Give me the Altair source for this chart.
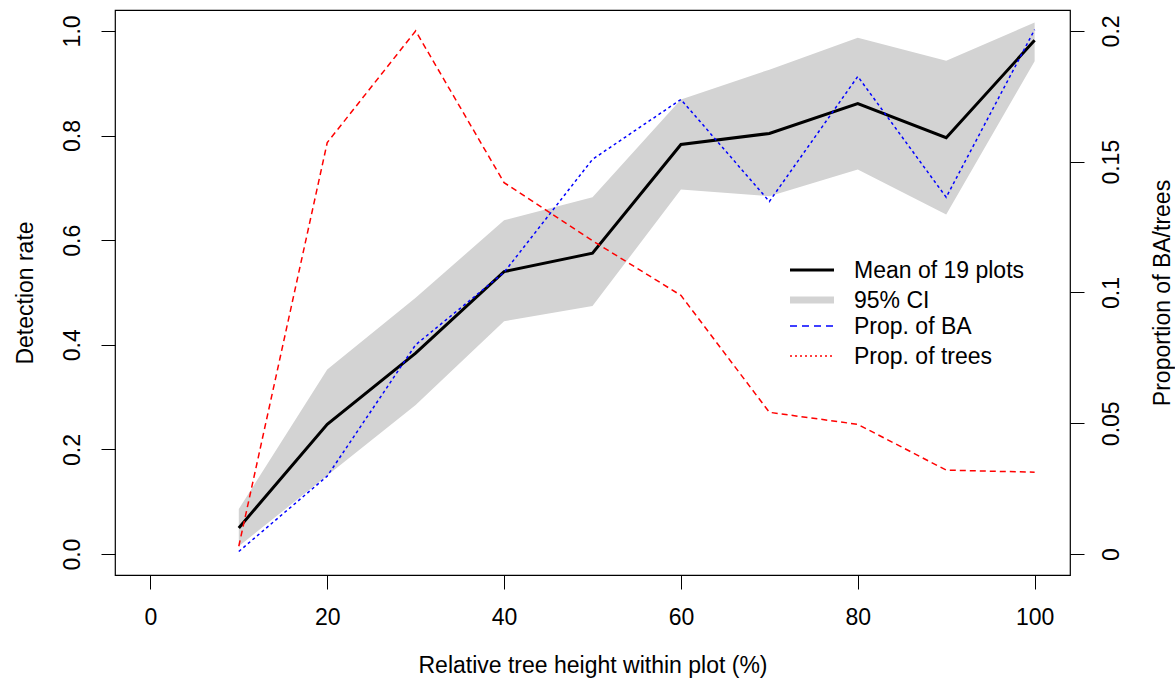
import altair as alt
import pandas as pd

# ---- data ----
height_pct = [10, 20, 30, 40, 50, 60, 70, 80, 90, 100]
mean_rate = [0.050, 0.248, 0.384, 0.540, 0.575, 0.783, 0.804, 0.861, 0.796, 0.982]
ci_upper = [0.086, 0.353, 0.490, 0.638, 0.682, 0.869, 0.926, 0.987, 0.943, 1.016]
ci_lower = [0.015, 0.150, 0.285, 0.445, 0.474, 0.697, 0.684, 0.735, 0.649, 0.942]
prop_ba = [0.001, 0.0298, 0.080, 0.1077, 0.1509, 0.1738, 0.1348, 0.1826, 0.1364, 0.2005]
prop_trees = [0.003, 0.1573, 0.200, 0.142, 0.1198, 0.0989, 0.0542, 0.0496, 0.0321, 0.0313]

x_ticks = [0, 20, 40, 60, 80, 100]
left_ticks = [0.0, 0.2, 0.4, 0.6, 0.8, 1.0]
right_ticks = [0, 0.05, 0.1, 0.15, 0.2]
legend_labels = ["Mean of 19 plots", "95% CI", "Prop. of BA", "Prop. of trees"]

df = pd.DataFrame({
    "h": height_pct, "mean": mean_rate, "lo": ci_lower, "hi": ci_upper,
    "ba": prop_ba, "trees": prop_trees,
})

FONT = "Liberation Sans"
FS = 23
W, H = 955, 565

xscale = alt.Scale(domain=[-4, 104], nice=False, zero=False)
yleft = alt.Scale(domain=[-0.04, 1.04], nice=False, zero=False)
yright = alt.Scale(domain=[-0.008, 0.208], nice=False, zero=False)

xaxis = alt.Axis(values=x_ticks, title="Relative tree height within plot (%)",
                 domain=False, grid=False, tickSize=14, labelPadding=17,
                 labelFontSize=FS, titleFontSize=FS, titleFontWeight="normal",
                 titleX=W / 2, titleY=90, titleBaseline="middle", titleAlign="center",
                 labelFont=FONT, titleFont=FONT, tickColor="black", labelColor="black",
                 titleColor="black")

left_axis = alt.Axis(values=left_ticks, format=".1f", title="Detection rate",
                     domain=False, grid=False, tickSize=14, labelPadding=17,
                     labelAngle=270, labelAlign="center", labelBaseline="bottom",
                     labelFontSize=FS, titleFontSize=FS, titleFontWeight="normal",
                     titleAngle=270, titleX=-90, titleY=H / 2, titleBaseline="middle",
                     titleAlign="center", labelFont=FONT, titleFont=FONT,
                     tickColor="black", labelColor="black", titleColor="black")

right_axis = alt.Axis(values=right_ticks, format="~g", title="Proportion of BA/trees",
                      orient="right", domain=False, grid=False, tickSize=14, labelPadding=16,
                      labelAngle=270, labelAlign="center", labelBaseline="top",
                      labelFontSize=FS, titleFontSize=FS, titleFontWeight="normal",
                      titleAngle=270, titleX=92, titleY=H / 2, titleBaseline="middle",
                      titleAlign="center", labelFont=FONT, titleFont=FONT,
                      tickColor="black", labelColor="black", titleColor="black")

base = alt.Chart(df)

ci = base.mark_area(color="#D3D3D3", opacity=1).encode(
    x=alt.X("h:Q", scale=xscale, axis=xaxis),
    y=alt.Y("hi:Q", scale=yleft, axis=left_axis),
    y2="lo:Q",
)
mean_line = base.mark_line(color="black", strokeWidth=3).encode(
    x=alt.X("h:Q", scale=xscale),
    y=alt.Y("mean:Q", scale=yleft, axis=None),
)
ba_line = base.mark_line(color="#0000FF", strokeWidth=1.5, strokeDash=[3, 3]).encode(
    x=alt.X("h:Q", scale=xscale),
    y=alt.Y("ba:Q", scale=yright, axis=right_axis),
)
trees_line = base.mark_line(color="#FF0000", strokeWidth=1.5, strokeDash=[6, 4]).encode(
    x=alt.X("h:Q", scale=xscale),
    y=alt.Y("trees:Q", scale=yright, axis=None),
)

# ---- manual legend (R-style, no box) ----
one = alt.Chart(pd.DataFrame({"k": [0]}))
leg_x1, leg_x2, leg_tx = 675, 719, 739
leg_rows = [260, 290, 316, 346]
leg_styles = [
    dict(color="black", strokeWidth=3),
    dict(color="#D3D3D3", strokeWidth=7),
    dict(color="#0000FF", strokeWidth=1.5, strokeDash=[7, 5]),
    dict(color="#FF0000", strokeWidth=1.5, strokeDash=[2, 3]),
]
legend_layers = []
for lab, yy, st in zip(legend_labels, leg_rows, leg_styles):
    legend_layers.append(
        one.mark_rule(**st).encode(x=alt.value(leg_x1), x2=alt.value(leg_x2), y=alt.value(yy))
    )
    legend_layers.append(
        one.mark_text(align="left", baseline="middle", font=FONT, fontSize=FS, color="black").encode(
            x=alt.value(leg_tx), y=alt.value(yy + 1), text=alt.value(lab)
        )
    )

chart = alt.layer(ci, mean_line, ba_line, trees_line, *legend_layers).resolve_scale(
    y="independent"
).properties(
    width=W, height=H,
    autosize=alt.AutoSizeParams(type="none"),
    padding={"left": 115, "top": 10, "right": 105, "bottom": 108},
    background="white",
).configure_view(stroke="black", strokeWidth=1.2)

chart.save("out.html", embed_options={"renderer": "svg", "actions": False})
